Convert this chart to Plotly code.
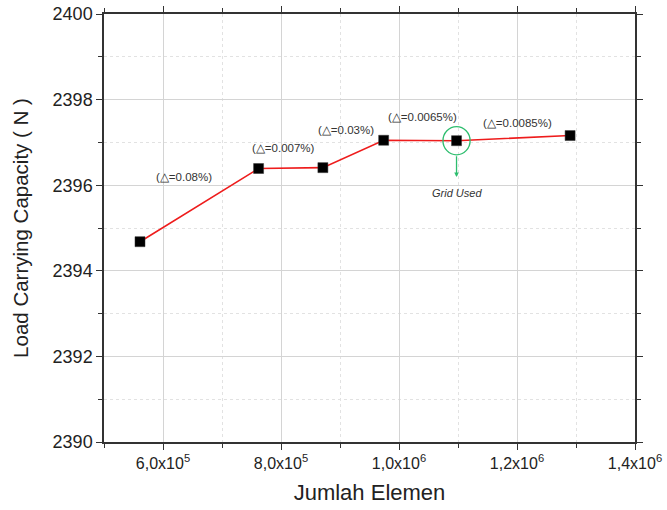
import plotly.graph_objects as go

elements = [5.61e5, 7.62e5, 8.71e5, 9.74e5, 1.0975e6, 1.29e6]
capacity = [2394.68, 2396.39, 2396.41, 2397.05, 2397.04, 2397.16]
delta_labels = ["(△=0.08%)", "(△=0.007%)", "(△=0.03%)", "(△=0.0065%)", "(△=0.0085%)"]
delta_x = [6.35e5, 8.05e5, 9.10e5, 1.04e6, 1.20e6]
delta_y = [2396.2, 2396.88, 2397.3, 2397.6, 2397.45]
x_tickvals = [6e5, 8e5, 1e6, 1.2e6, 1.4e6]
x_ticktext = ["6,0x10<sup>5</sup>", "8,0x10<sup>5</sup>", "1,0x10<sup>6</sup>",
              "1,2x10<sup>6</sup>", "1,4x10<sup>6</sup>"]
grid_used_x = elements[4]
grid_used_y = capacity[4]

FONT = "Liberation Sans, Arial, sans-serif"

fig = go.Figure()
fig.add_trace(go.Scatter(
    x=elements, y=capacity, mode="lines+markers",
    line=dict(color="#ee1c1c", width=1.6),
    marker=dict(symbol="square", size=10, color="black",
                line=dict(color="#333", width=0.5)),
    showlegend=False,
))

for lx, ly, txt in zip(delta_x, delta_y, delta_labels):
    fig.add_annotation(x=lx, y=ly, text=txt, showarrow=False,
                       font=dict(family=FONT, size=11.5, color="#333"))

# green circle around chosen grid
fig.add_shape(type="circle", xref="x", yref="y",
              x0=grid_used_x - 2.3e4, x1=grid_used_x + 2.3e4,
              y0=grid_used_y - 0.33, y1=grid_used_y + 0.33,
              line=dict(color="#2dbd6e", width=1.3))
fig.add_annotation(x=grid_used_x, y=grid_used_y - 0.85, ax=grid_used_x,
                   ay=grid_used_y - 0.33, xref="x", yref="y", axref="x", ayref="y",
                   showarrow=True, arrowhead=2, arrowsize=0.7, arrowwidth=1.3,
                   arrowcolor="#2dbd6e", text="")
fig.add_annotation(x=grid_used_x, y=grid_used_y - 1.22, text="<i>Grid Used</i>",
                   showarrow=False, font=dict(family=FONT, size=11, color="#333"))

axis_common = dict(
    showline=True, linecolor="#333", linewidth=1.5, mirror="allticks",
    ticks="outside", ticklen=6, tickcolor="#333", tickwidth=1.2,
    showgrid=True, gridcolor="#d4d4d4", gridwidth=1, zeroline=False,
    automargin=False,
)

fig.update_xaxes(
    range=[5e5, 1.4e6], tickvals=x_tickvals, ticktext=x_ticktext,
    tickfont=dict(family=FONT, size=16, color="#222"),
    title=dict(text="Jumlah Elemen", font=dict(family=FONT, size=22, color="#222"),
               standoff=14),
    minor=dict(tickvals=[5e5, 7e5, 9e5, 1.1e6, 1.3e6], ticks="outside", ticklen=4,
               tickcolor="#333", showgrid=True, gridcolor="#e2e2e2", griddash="dot"),
    **axis_common,
)
fig.update_yaxes(
    range=[2390, 2400], tickvals=[2390, 2392, 2394, 2396, 2398, 2400],
    tickfont=dict(family=FONT, size=18, color="#222"),
    title=dict(text="Load Carrying Capacity ( N )",
               font=dict(family=FONT, size=20.5, color="#222"), standoff=18),
    minor=dict(tickvals=[2391, 2393, 2395, 2397, 2399], ticks="outside", ticklen=4,
               tickcolor="#333", showgrid=True, gridcolor="#e2e2e2", griddash="dot"),
    **axis_common,
)

fig.update_layout(
    width=667, height=510,
    margin=dict(l=104, r=32, t=14, b=68),
    plot_bgcolor="white", paper_bgcolor="white",
    font=dict(family=FONT),
)

fig.write_html("out.html")
